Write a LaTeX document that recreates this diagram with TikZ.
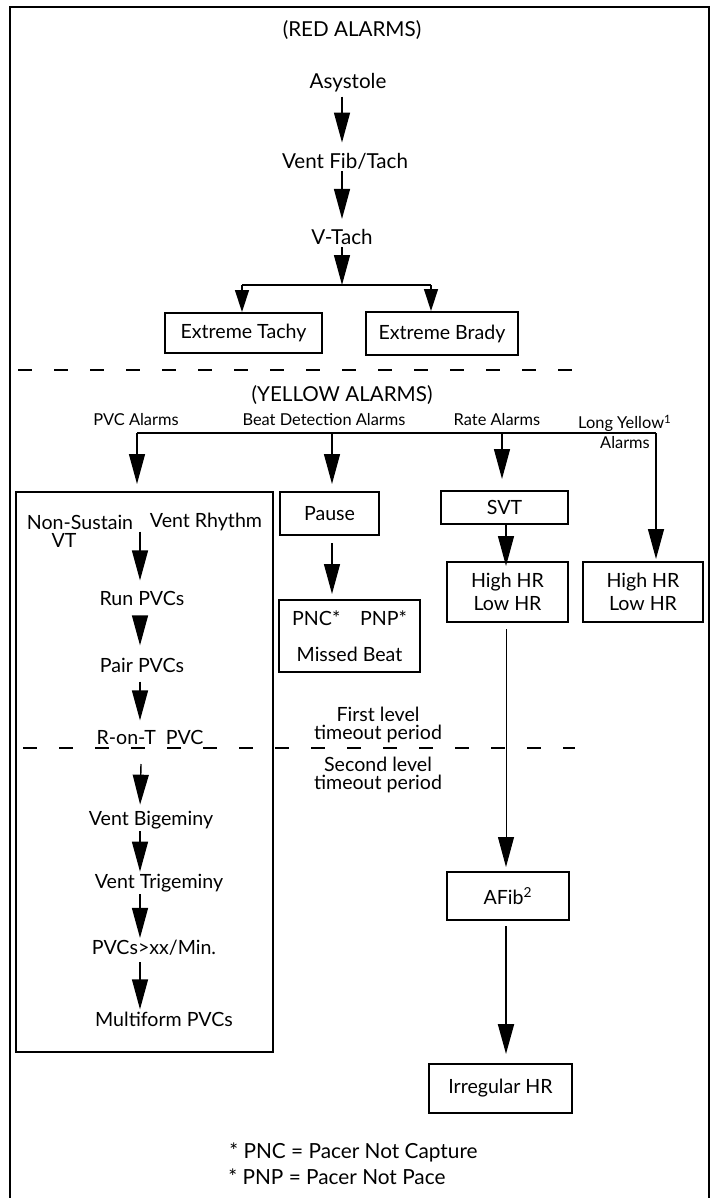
\documentclass[tikz,border=0pt]{standalone}
\usepackage{fontspec}
\setmainfont{Lato}
\usetikzlibrary{arrows.meta}
\begin{document}
\begin{tikzpicture}[x=0.5pt,y=-0.5pt,
    big/.style={font=\fontsize{10.3}{12.4}\selectfont, inner sep=1pt},
    txt/.style={font=\fontsize{9.8}{11.5}\selectfont, inner sep=1pt},
    sml/.style={font=\fontsize{8.2}{10}\selectfont, inner sep=1pt},
    foot/.style={font=\fontsize{10.4}{12.5}\selectfont, inner sep=1pt, anchor=west},
    box/.style={draw, line width=1pt, txt, align=center},
    arr/.style={-{Triangle[length=15pt,width=8pt]}, line width=0.7pt},
    arrs/.style={-{Triangle[length=11pt,width=7pt]}, line width=0.7pt},
    bar/.style={line width=1pt},
    sep/.style={line width=1.2pt, dash pattern=on 7pt off 11pt}]
    \useasboundingbox (0,0) rectangle (713,1198);
    \draw[line width=1.3pt] (10,1210) -- (10,7) -- (709,7) -- (709,1210);
    \node (red) at (352,30) [big] {(RED ALARMS)};
    \node (asys) at (348,83) [big] {Asystole};
    \node (vfib) at (345,161) [big] {Vent Fib/Tach};
    \node (vtach) at (342,237) [big] {V-Tach};
    \node (tachy) at (243.5,333) [box, minimum width=78.5pt, minimum height=20pt] {Extreme Tachy};
    \node (brady) at (442,333.5) [box, minimum width=76pt, minimum height=21.5pt] {Extreme Brady};
    \node (yellow) at (342,395) [big] {(YELLOW ALARMS)};
    \node (pvcal) at (136,420) [sml] {PVC Alarms};
    \node (beatal) at (324,420) [sml] {Beat Detection Alarms};
    \node (rateal) at (497,420) [sml] {Rate Alarms};
    \node (longal) at (625,432) [sml, align=center] {Long Yellow\textsuperscript{1}\\Alarms};
    \node (pvcbox) at (144.5,772) [box, minimum width=128.5pt, minimum height=280pt] {};
    \node (pause) at (329.5,513.5) [box, minimum width=49.5pt, minimum height=21.5pt] {Pause};
    \node (pnc) at (349.5,636) [box, minimum width=70.5pt, minimum height=36pt] {PNC*\quad PNP*\\[6.7pt]Missed Beat};
    \node (svt) at (504.5,507.5) [box, minimum width=63.5pt, minimum height=16.5pt] {SVT};
    \node (hhr1) at (507.5,592) [box, minimum width=60.5pt, minimum height=30pt] {High HR\\Low HR};
    \node (hhr2) at (643,592) [box, minimum width=60pt, minimum height=30pt] {High HR\\Low HR};
    \node (afib) at (508,896) [box, minimum width=61pt, minimum height=24pt] {AFib\textsuperscript{2}};
    \node (irreg) at (500.5,1088.5) [box, minimum width=71.5pt, minimum height=24.5pt] {Irregular HR};
    \node (nonsus) at (80,522) [txt] {Non-Sustain};
    \node (vt) at (64,540) [txt] {VT};
    \node (ventr) at (206,522) [txt] {Vent Rhythm};
    \node (runpvc) at (142,598) [txt] {Run PVCs};
    \node (pairpvc) at (142,665) [txt] {Pair PVCs};
    \node (ront) at (150,737) [txt] {R-on-T\ \ PVC};
    \node (bigem) at (151,820) [txt] {Vent Bigeminy};
    \node (trigem) at (159,883) [txt] {Vent Trigeminy};
    \node (pvcsxx) at (154,948) [txt] {PVCs>xx/Min.};
    \node (multi) at (164,1019) [txt] {Multiform PVCs};
    \node (first) at (378,725) [txt, align=center] {First level\\[-2.8pt]timeout period};
    \node (second) at (378,775) [txt, align=center] {Second level\\[-2.3pt]timeout period};
    \node (fn1) at (227,1152) [foot] {* PNC = Pacer Not Capture};
    \node (fn2) at (226,1177) [foot] {* PNP = Pacer Not Pace};
    \coordinate (rc) at (342,0);
    \coordinate (split) at (342,285);
    \coordinate (bl) at (242,285);
    \coordinate (br) at (431,285);
    \coordinate (d1a) at (18,370);
    \coordinate (d1b) at (578,370);
    \coordinate (ya) at (137,433);
    \coordinate (yc) at (332,433);
    \coordinate (yd) at (502,433);
    \coordinate (yb) at (656,433);
    \coordinate (rr) at (506,0);
    \coordinate (pc) at (140,0);
    \coordinate (d2a) at (23,748);
    \coordinate (d2b) at (575,748);
    \coordinate (lvl2) at (141,764);
    \draw[arr, shorten <=1pt, shorten >=4pt] (asys.south -| rc) -- (vfib.north -| rc);
    \draw[arr, shorten >=4pt] (vfib.south -| rc) -- (vtach.north -| rc);
    \draw[arr] (vtach.south -| rc) -- (split);
    \draw[bar] (bl) -- (br);
    \draw[arrs] (bl) -- (bl |- tachy.north);
    \draw[arrs] (br) -- (br |- brady.north);
    \draw[sep] (d1a) -- (d1b);
    \draw[bar] (ya) -- (yb);
    \draw[arr, shorten >=3.5pt] (ya) -- (ya |- pvcbox.north);
    \draw[arr, shorten >=3.5pt] (yc) -- (yc |- pause.north);
    \draw[arr, shorten >=5.5pt] (yd) -- (yd |- svt.north);
    \draw[arr, shorten >=1pt] (yb) -- (yb |- hhr2.north);
    \draw[arr, shorten <=3.5pt, shorten >=2.5pt] (pause.south -| yc) -- (pnc.north -| yc);
    \draw[arr, shorten >=-2.5pt] (svt.south -| rr) -- (hhr1.north -| rr);
    \draw[arr, line width=0.5pt, shorten <=3pt, shorten >=2pt] (hhr1.south -| rr) -- (afib.north -| rr);
    \draw[arr, line width=1pt, shorten <=2.5pt, shorten >=4.5pt] (afib.south -| rr) -- (irreg.north -| rr);
    \draw[arr, shorten >=4pt] (nonsus.south -| pc) -- (runpvc.north -| pc);
    \draw[arr, shorten <=4pt, shorten >=5pt] (runpvc.south -| pc) -- (pairpvc.north -| pc);
    \draw[arr, shorten <=3.5pt, shorten >=3.5pt] (pairpvc.south -| pc) -- (ront.north -| pc);
    \draw[sep] (d2a) -- (d2b);
    \draw[arr, shorten >=2pt] (lvl2) -- (bigem.north -| pc);
    \draw[arr] (bigem.south -| pc) -- (trigem.north -| pc);
    \draw[arr] (trigem.south -| pc) -- (pvcsxx.north -| pc);
    \draw[arr, shorten <=2pt] (pvcsxx.south -| pc) -- (multi.north -| pc);
\end{tikzpicture}
\end{document}
